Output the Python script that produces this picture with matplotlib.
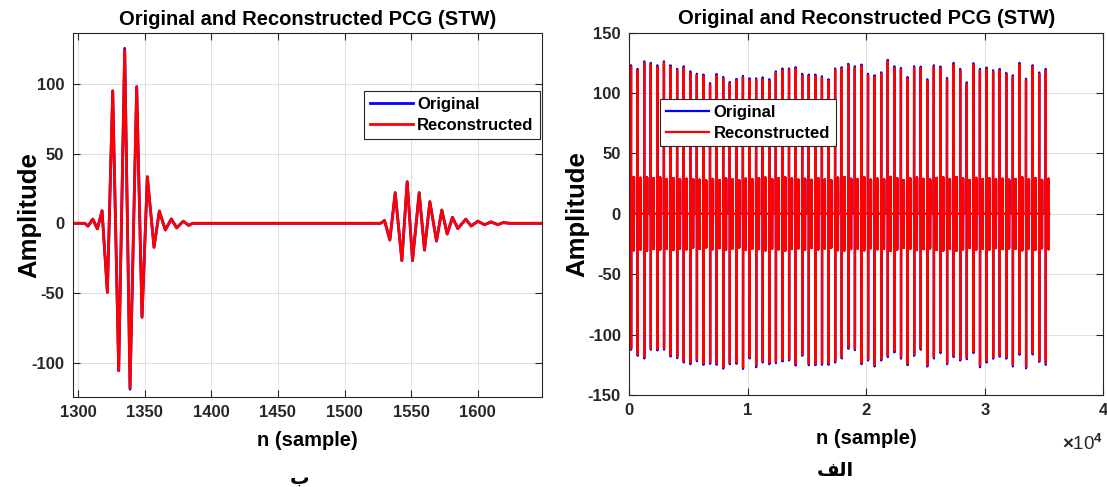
import numpy as np
import matplotlib
matplotlib.use("Agg")
import matplotlib.pyplot as plt

plt.rcParams['font.family'] = ['Liberation Sans', 'DejaVu Sans']
plt.rcParams['font.weight'] = 'bold'
plt.rcParams['axes.unicode_minus'] = False
plt.rcParams['mathtext.fontset'] = 'custom'
plt.rcParams['mathtext.rm'] = 'Liberation Sans'

# ---- one S1/S2 cycle (samples 1296..1648), extrema of the waveform
seg_n = [1296, 1305, 1307.5, 1311, 1314.5, 1318, 1322, 1326, 1330.5, 1335,
         1339, 1344, 1348, 1352, 1357, 1361, 1365.5, 1370, 1374, 1379,
         1383, 1386, 1527, 1530, 1534, 1538, 1543, 1547, 1551, 1556,
         1560, 1564, 1569, 1573, 1577, 1581, 1585, 1591, 1595, 1600,
         1605, 1610, 1615, 1619, 1624, 1648]
seg_orig = [0, 0, -2, 3, -4, 9, -49.5, 95, -105.7, 125.5,
            -119, 98, -67.4, 33.4, -17.2, 8.8, -4.8, 3.1, -3.3, 1.5,
            -1.5, 0, 0, 2, -12, 22, -26.8, 29.8, -26.8, 22,
            -19.2, 15.5, -12.7, 9.5, -7.7, 4.3, -3.8, 3, -2, 1.5,
            -1, 1, -1, 0.5, 0, 0]
seg_rec = [0, 0, -2, 3, -4, 9, -49.5, 95, -105.7, 124.3,
           -118, 98, -67.4, 33.4, -17.2, 8.8, -4.8, 3.1, -3.3, 1.5,
           -1.5, 0, 0, 2, -12, 22, -26.8, 29.8, -26.8, 22,
           -19.2, 15.5, -12.7, 9.5, -7.7, 4.3, -3.8, 3, -2, 1.5,
           -1, 1, -1, 0.5, 0, 0]

# ---- whole record: per-beat S1 sample and S1/S2 extremes
beat_n = [144, 700, 1255, 1810, 2366, 2922, 3477, 4033, 4588, 5144,
          5699, 6254, 6810, 7366, 7921, 8476, 9032, 9588, 10143, 10698,
          11254, 11810, 12365, 12920, 13476, 14032, 14587, 15142, 15698, 16254,
          16809, 17364, 17920, 18476, 19031, 19586, 20142, 20698, 21253, 21808,
          22364, 22920, 23475, 24030, 24586, 25142, 25697, 26252, 26808, 27364,
          27919, 28474, 29030, 29586, 30141, 30696, 31252, 31808, 32363, 32918,
          33474, 34030, 34585, 35140]
s1_top = [123, 120, 126.3, 125, 123, 126.3, 123, 120, 122.2, 118,
          116, 115.3, 108.3, 115.8, 113.3, 109.2, 111.7, 114.2, 112.2, 112.2,
          113, 111.5, 118, 120.3, 120.3, 121.4, 116, 115.3, 115.3, 113.9,
          111.4, 120.3, 121.4, 124.2, 122.2, 123.6, 116, 114.7, 117.2, 127.5,
          122.2, 120.8, 113.3, 122.2, 121.9, 111.4, 123, 121.9, 112.5, 125,
          120, 108.9, 124.7, 120, 121.1, 118.9, 120, 116.7, 114.7, 125,
          111.9, 123, 117, 120]
s1_bot = [-112.5, -117.5, -119.7, -112.5, -113.1, -112.5, -118.1, -119.5, -123.1, -124.5,
          -122, -125, -124.2, -125, -128.1, -124.5, -124.2, -128.4, -119.7, -127,
          -123.1, -124.5, -123.6, -122.2, -121.4, -125.6, -117.5, -125.3, -125.3, -125,
          -125, -123.1, -119.7, -111.7, -112.8, -124.5, -121.4, -126.4, -121.4, -118.6,
          -114.7, -119.9, -125.3, -117.5, -112.5, -126.4, -119.7, -115.3, -124.5, -118.6,
          -121.4, -120.3, -115.3, -127, -123.1, -119.9, -118.3, -119.9, -126.4, -116.7,
          -127.8, -116.4, -122.5, -125]
s1_top_rec = [121.8, 118.8, 125.1, 123.8, 121.8, 125.1, 121.8, 118.8, 121.0, 116.8,
              114.8, 114.1, 107.1, 114.6, 112.1, 108.0, 110.5, 113.0, 111.0, 111.0,
              111.8, 110.3, 116.8, 119.1, 119.1, 120.2, 114.8, 114.1, 114.1, 112.7,
              110.2, 119.1, 120.2, 123.0, 121.0, 122.4, 114.8, 113.5, 116.0, 126.3,
              121.0, 119.6, 112.1, 121.0, 120.7, 110.2, 121.8, 120.7, 111.3, 123.8,
              118.8, 107.7, 123.5, 118.8, 119.9, 117.7, 118.8, 115.5, 113.5, 123.8,
              110.7, 121.8, 115.8, 118.8]
s1_bot_rec = [-111.3, -116.3, -118.5, -111.3, -111.9, -111.3, -116.9, -118.3, -121.9, -123.3,
              -120.8, -123.8, -123.0, -123.8, -126.9, -123.3, -123.0, -127.2, -118.5, -125.8,
              -121.9, -123.3, -122.4, -121.0, -120.2, -124.4, -116.3, -124.1, -124.1, -123.8,
              -123.8, -121.9, -118.5, -110.5, -111.6, -123.3, -120.2, -125.2, -120.2, -117.4,
              -113.5, -118.7, -124.1, -116.3, -111.3, -125.2, -118.5, -114.1, -123.3, -117.4,
              -120.2, -119.1, -114.1, -125.8, -121.9, -118.7, -117.1, -118.7, -125.2, -115.5,
              -126.6, -115.2, -121.3, -123.8]
s2_top = [30.5, 29.8, 30.2, 29.5, 30.0, 28.8, 29.6, 28.4, 29.0, 28.6,
          28.2, 27.6, 28.9, 28.0, 29.3, 28.5, 27.9, 29.1, 28.7, 29.4,
          30.0, 28.8, 29.5, 30.1, 29.2, 28.3, 29.0, 28.1, 29.6, 28.4,
          27.8, 29.9, 30.3, 29.0, 28.6, 30.4, 28.2, 29.1, 28.5, 30.6,
          29.4, 28.0, 29.2, 30.1, 28.9, 28.3, 29.7, 30.2, 28.6, 30.5,
          29.3, 27.9, 29.8, 28.7, 29.4, 28.5, 29.0, 28.2, 28.8, 30.3,
          28.4, 29.6, 28.1, 29.0]
s2_bot = [-30.2, -29.5, -30.6, -29.1, -29.8, -28.9, -30.0, -28.7, -29.4, -28.2,
          -29.0, -27.8, -29.3, -28.4, -29.6, -28.8, -28.1, -29.7, -28.9, -29.2,
          -30.3, -29.0, -29.4, -30.5, -29.1, -28.6, -29.8, -28.3, -29.5, -28.7,
          -28.0, -30.1, -30.4, -29.2, -28.8, -30.2, -28.5, -29.3, -28.9, -30.7,
          -29.6, -28.2, -29.0, -30.0, -29.2, -28.6, -29.9, -30.3, -28.8, -30.6,
          -29.4, -28.3, -29.7, -28.9, -29.6, -28.4, -29.2, -28.6, -29.0, -30.2,
          -28.7, -29.8, -28.5, -29.3]
record_end = 35420

left_xticks = [1300, 1350, 1400, 1450, 1500, 1550, 1600]
left_yticks = [-100, -50, 0, 50, 100]
right_xticks = [0, 10000, 20000, 30000, 40000]
right_xticklabels = ['0', '1', '2', '3', '4']
right_yticks = [-150, -100, -50, 0, 50, 100, 150]


def beat_trace(top, bot):
    # S1 spike followed by the S2 burst, one beat after another
    n = [0]
    x = [0]
    for t, a, b, c, d in zip(beat_n, top, bot, s2_top, s2_bot):
        n += [t - 12, t, t + 6, t + 14,
              t + 200, t + 208, t + 218, t + 228, t + 238, t + 250, t + 262]
        x += [0, a, b, 0, 0, c, d, c, d, c, 0]
    n.append(record_end)
    x.append(0)
    return np.array(n), np.array(x)


full_n, full_orig = beat_trace(s1_top, s1_bot)
_, full_rec = beat_trace(s1_top_rec, s1_bot_rec)

fig = plt.figure(figsize=(11.07, 4.87), dpi=100)
ax1 = fig.add_axes([0.0657, 0.1854, 0.4237, 0.7462])
ax2 = fig.add_axes([0.5685, 0.1889, 0.4282, 0.7440])

ax1.plot(seg_n, seg_orig, color='#0000ff', lw=2.0, label='Original')
ax1.plot(seg_n, seg_rec, color='#ff0000', lw=2.0, label='Reconstructed')
ax1.set_xlim(1296, 1648)
ax1.set_ylim(-124.4, 136.3)
ax1.set_xticks(left_xticks)
ax1.set_yticks(left_yticks)

ax2.plot(full_n, full_orig, color='#0000ff', lw=1.6, label='Original')
ax2.plot(full_n, full_rec, color='#ff0000', lw=1.6, label='Reconstructed')
ax2.set_xlim(0, 40000)
ax2.set_ylim(-150, 150)
ax2.set_xticks(right_xticks)
ax2.set_xticklabels(right_xticklabels)
ax2.set_yticks(right_yticks)
ax2.text(1.0, -0.135, r'$\times$10$^{4}$', transform=ax2.transAxes,
         ha='right', va='center', fontsize=13.5, fontweight='normal',
         color='#262626')

for ax in (ax1, ax2):
    ax.set_title('Original and Reconstructed PCG (STW)', fontsize=14.5,
                 fontweight='bold', pad=6)
    ax.set_xlabel('n (sample)', fontsize=14.5, fontweight='bold', labelpad=8)
    ax.set_ylabel('Amplitude', fontsize=18.5, fontweight='bold')
    ax.grid(True, color='#dedede', lw=0.7)
    ax.set_axisbelow(True)
    ax.tick_params(direction='in', top=True, right=True, length=5,
                   width=0.8, colors='#262626', labelsize=12, pad=6)
    for s in ax.spines.values():
        s.set_color('#262626')
        s.set_linewidth(0.8)

ax1.yaxis.set_label_coords(-0.066, 0.5)
ax2.yaxis.set_label_coords(-0.084, 0.5)

leg_style = dict(fontsize=12, frameon=True, fancybox=False, borderaxespad=0,
                 handlelength=2.6, handletextpad=0.25, labelspacing=0.35,
                 borderpad=0.35, edgecolor='#262626', framealpha=1)
lg = ax1.legend(loc='upper left', bbox_to_anchor=(0.621, 0.841), **leg_style)
lg.get_frame().set_linewidth(0.8)
lg = ax2.legend(loc='upper left', bbox_to_anchor=(0.0648, 0.817), **leg_style)
lg.get_frame().set_linewidth(0.8)

# matplotlib has no Arabic shaping, so the panel letters are given in
# their shaped presentation forms, in left-to-right order
fig.text(300 / 1107, 1 - 478 / 487, '\ufe8f', ha='center', va='center',
         fontsize=14, fontweight='bold', family=['DejaVu Sans'])
fig.text(835 / 1107, 1 - 471 / 487, '\ufed2\ufedf\ufe8d', ha='center',
         va='center', fontsize=14, fontweight='bold', family=['DejaVu Sans'])

fig.savefig('out.png', dpi=100)
